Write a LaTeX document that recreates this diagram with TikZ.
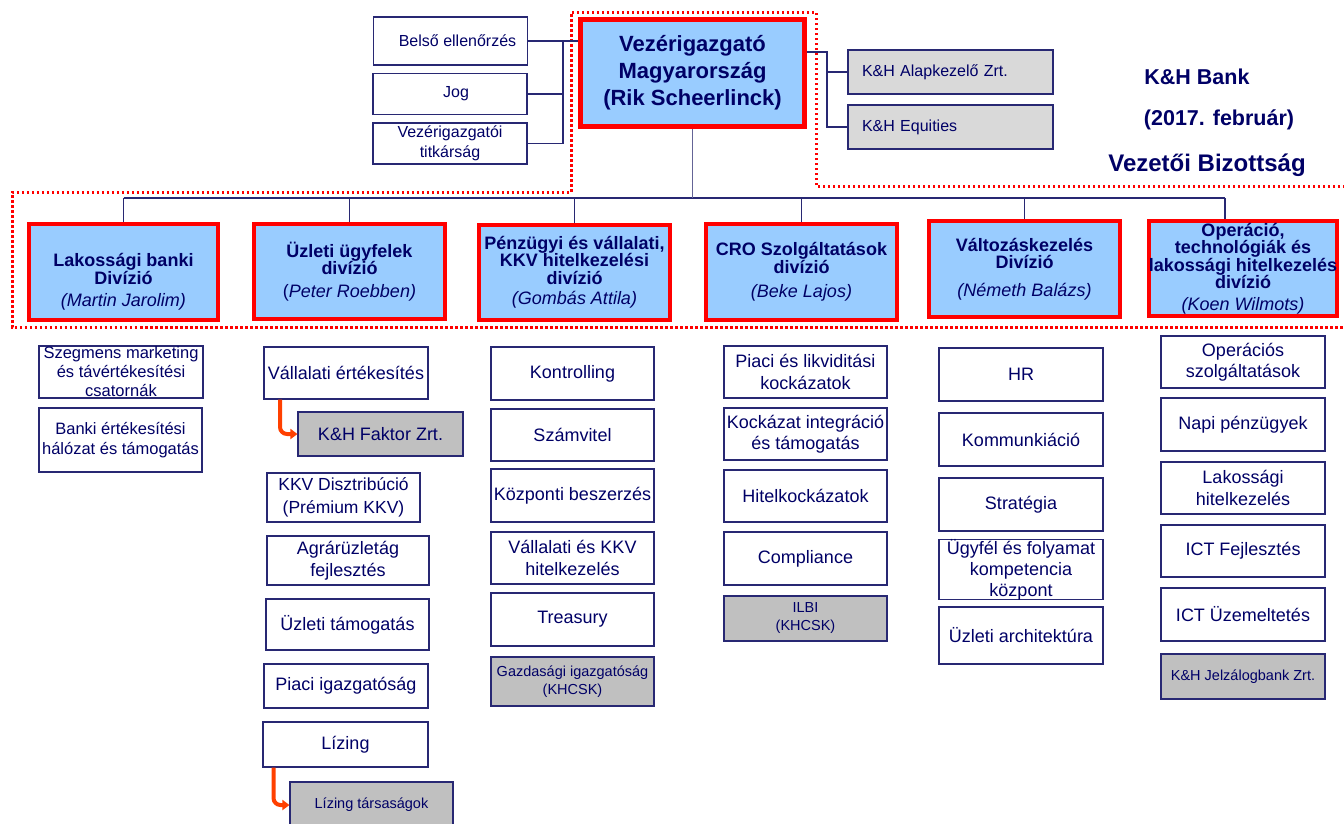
\documentclass[tikz,border=0pt]{standalone}
\usepackage{fontspec}
\setmainfont{Liberation Sans}
\usetikzlibrary{arrows.meta}

\definecolor{khnavy}{RGB}{0,0,102}
\definecolor{khline}{RGB}{40,40,115}
\definecolor{khslate}{RGB}{100,100,150}
\definecolor{khred}{RGB}{255,0,0}
\definecolor{khblue}{RGB}{153,204,255}
\definecolor{khgray}{RGB}{217,217,217}
\definecolor{khdgray}{RGB}{192,192,192}
\definecolor{khorange}{RGB}{255,64,0}

\newcommand{\divlead}[1]{{\mdseries\itshape #1}}

\tikzset{
  conn/.style={draw=khline, line width=1.1pt},
  ceoline/.style={draw=khslate, line width=1.5pt},
  frame/.style={draw=khred, line width=3pt, dash pattern=on 2.5pt off 2.5pt},
  ceobox/.style={draw=khred, line width=5pt, fill=khblue, text=khnavy, align=center,
    font=\bfseries\fontsize{22}{27}\selectfont, minimum width=224pt, minimum height=107pt},
  divbox/.style={draw=khred, line width=4pt, fill=khblue, text=khnavy, align=center,
    font=\bfseries\fontsize{18}{17.5}\selectfont, inner sep=0pt,
    minimum width=191pt, minimum height=96pt},
  staff/.style={draw=khline, line width=1.1pt, fill=white, text=khnavy, align=center,
    font=\fontsize{16}{20}\selectfont, inner sep=0pt, minimum width=154pt, minimum height=41pt},
  firm/.style={draw=khline, line width=1.1pt, fill=khgray, text=khnavy, align=left,
    font=\fontsize{16}{20}\selectfont, text width=177pt, inner xsep=14pt, inner ysep=0pt,
    minimum height=44pt},
  unit/.style={draw=khline, line width=1.1pt, fill=white, text=khnavy, align=center,
    font=\fontsize{18}{21.5}\selectfont, inner xsep=1pt, inner ysep=0pt,
    minimum width=163pt, minimum height=52pt},
  lunit/.style={unit, font=\fontsize{16.5}{19.5}\selectfont, minimum width=164pt},
  subco/.style={unit, fill=khdgray, font=\fontsize{14.5}{18}\selectfont, minimum height=45pt},
  subarrow/.style={draw=khorange, line width=4pt, rounded corners=7pt,
    -{Triangle[length=7pt,width=10pt]}},
  title/.style={text=khnavy, font=\bfseries\fontsize{21.5}{25}\selectfont, inner sep=0pt}
}

\begin{document}
\begin{tikzpicture}[x=1pt, y=-1pt]
    \useasboundingbox (0,0) rectangle (1344,823);
    \fill[white] (0,0) rectangle (1344,823);

    \draw[frame] (1350,186) -- (816,186) -- (816,12) -- (571,12) -- (571,192)
        -- (12,192) -- (12,327) -- (1350,327);

    % top management
    \node[ceobox] (ceo) at (692.5,73) {Vezérigazgató\\Magyarország\\(Rik Scheerlinck)};
    \node[staff, minimum height=48pt] (belso) at (450.5,41) {\hspace*{14pt}Belső ellenőrzés};
    \node[staff] (jog) at (450,94) {\hspace*{12pt}Jog};
    \node[staff] (titk) at (450,143.5) {Vezérigazgatói\\titkárság};
    \node[firm] (alap) at (950.5,72) {K\&H Alapkezelő Zrt.};
    \node[firm] (equi) at (950.5,127) {K\&H Equities};

    \node[title] (bank) at (1197,77) {K\&H Bank};
    \node[title] (date) at (1219,120) {(2017. február)};
    \node[title, font=\bfseries\fontsize{24}{28}\selectfont] (board) at (1207,165) {Vezetői Bizottság};

    \coordinate (lstem) at (563,0);
    \draw[conn] (belso.east) -- (belso.east -| ceo.west);
    \draw[conn] (belso.east -| lstem) -- (titk.east -| lstem);
    \draw[conn] (jog.east) -- (jog.east -| lstem);
    \draw[conn] (titk.east) -- (titk.east -| lstem);

    \coordinate (rstem) at (827,0);
    \coordinate (ceoout) at ([yshift=21pt]ceo.east);
    \draw[conn] (ceoout) -| (rstem |- equi.west) -- (equi.west);
    \draw[conn] (alap.west) -- (alap.west -| rstem);

    % divisions
    \node[divbox, minimum width=189pt] (lak) at (123.5,272) {\rule{0pt}{33pt}Lakossági banki\\Divízió\\[5pt]\divlead{(Martin Jarolim)}};
    \node[divbox, minimum height=95pt] (uzl) at (349.5,271.5) {Üzleti ügyfelek\\divízió\\[5pt]{\mdseries(}\divlead{Peter Roebben)}};
    \node[divbox, minimum height=95pt] (penz) at (574.5,272.5) {Pénzügyi és vállalati,\\KKV hitelkezelési\\divízió\\[3pt]\divlead{(Gombás Attila)}};
    \node[divbox] (cro) at (801.5,272) {CRO Szolgáltatások\\divízió\\[7pt]\divlead{(Beke Lajos)}};
    \node[divbox] (valt) at (1024.5,269) {Változáskezelés\\Divízió\\[10pt]\divlead{(Németh Balázs)}};
    \node[divbox, minimum width=188pt, minimum height=95pt] (ops) at (1243,268.5) {Operáció,\\technológiák és\\lakossági hitelkezelés\\divízió\\[4pt]\divlead{(Koen Wilmots)}};

    \coordinate (bus) at (0,198);
    \coordinate (opsdrop) at ([xshift=-18pt]ops.north);
    \draw[conn] (lak.north |- bus) -- (opsdrop |- bus);
    \draw[ceoline] (ceo.south) -- (ceo.south |- bus);
    \draw[conn] (lak.north) -- (lak.north |- bus);
    \draw[conn] (uzl.north) -- (uzl.north |- bus);
    \draw[conn] (penz.north) -- (penz.north |- bus);
    \draw[conn] (cro.north) -- (cro.north |- bus);
    \draw[conn] (valt.north) -- (valt.north |- bus);
    \draw[conn] (opsdrop) -- (opsdrop |- bus);

    % retail
    \node[lunit, font=\fontsize{16.5}{19}\selectfont] (szeg) at (121,372) {Szegmens marketing\\és távértékesítési\\csatornák};
    \node[lunit, minimum width=163pt, minimum height=64pt] (halo) at (120.5,440) {Banki értékesítési\\hálózat és támogatás};

    % corporate
    \node[unit, minimum width=164pt] (vsale) at (346,373) {Vállalati értékesítés};
    \node[unit, fill=khdgray, minimum width=165pt, minimum height=44pt] (faktor) at (380.5,434) {K\&H Faktor Zrt.};
    \node[unit, minimum width=153pt, minimum height=49pt, font=\fontsize{17.5}{23}\selectfont] (kkvd) at (343.5,497.5) {KKV Disztribúció\\(Prémium KKV)};
    \node[unit, minimum width=162pt, minimum height=49pt] (agrar) at (348,560.5) {Agrárüzletág\\fejlesztés};
    \node[unit, minimum height=51pt] (utam) at (347.5,624.5) {Üzleti támogatás};
    \node[unit, minimum width=164pt, minimum height=44pt] (piac) at (346,686) {Piaci igazgatóság};
    \node[unit, minimum width=165pt, minimum height=45pt] (lizing) at (345.5,744.5) {Lízing};
    \node[subco, minimum height=46pt] (liztars) at (371.5,805) {Lízing társaságok};
    \draw[subarrow] ([xshift=-66pt]vsale.south) |- (faktor.west);
    \draw[subarrow] ([xshift=-72pt]lizing.south) |- (liztars.west);

    % finance
    \node[unit, minimum height=53pt] (kontr) at (572.5,373.5) {Kontrolling};
    \node[unit] (szamv) at (572.5,435) {Számvitel};
    \node[unit, minimum height=53pt] (kozp) at (572.5,495.5) {Központi beszerzés};
    \node[unit] (vkkv) at (572.5,558) {Vállalati és KKV\\hitelkezelés};
    \node[unit, minimum height=53pt] (treas) at (572.5,619.5) {Treasury};
    \node[subco, minimum height=49pt] (gazd) at (572.5,681.5) {Gazdasági igazgatóság\\(KHCSK)};

    % risk
    \node[unit] (plik) at (805.5,372) {Piaci és likviditási\\kockázatok};
    \node[unit] (kint) at (805.5,434) {Kockázat integráció\\és támogatás};
    \node[unit] (hitk) at (805.5,496) {Hitelkockázatok};
    \node[unit, minimum height=53pt] (compl) at (805.5,558.5) {Compliance};
    \node[subco] (ilbi) at (805.5,618.5) {ILBI\\(KHCSK)};

    % change
    \node[unit, minimum width=164pt, minimum height=53pt] (hr) at (1021,374.5) {HR};
    \node[unit, minimum width=164pt, minimum height=53pt] (komm) at (1021,439.5) {Kommunkiáció};
    \node[unit, minimum width=164pt, minimum height=53pt] (strat) at (1021,504.5) {Stratégia};
    \node[unit, minimum width=164pt, minimum height=57pt, font=\fontsize{18}{21}\selectfont] (ugyf) at (1021,569.5) {Ügyfél és folyamat\\kompetencia\\központ};
    \node[unit, minimum width=164pt, minimum height=57pt] (uarch) at (1021,635.5) {Üzleti architektúra};

    % operations
    \node[unit, minimum width=164pt] (opsz) at (1243,362) {Operációs\\szolgáltatások};
    \node[unit, minimum width=164pt, minimum height=53pt] (napi) at (1243,424.5) {Napi pénzügyek};
    \node[unit, minimum width=164pt] (lakh) at (1243,488) {Lakossági\\hitelkezelés};
    \node[unit, minimum width=164pt] (ictf) at (1243,551) {ICT Fejlesztés};
    \node[unit, minimum width=164pt, minimum height=53pt] (ictu) at (1243,614.5) {ICT Üzemeltetés};
    \node[subco, minimum width=164pt] (jelz) at (1243,676.5) {K\&H Jelzálogbank Zrt.};

\end{tikzpicture}
\end{document}
